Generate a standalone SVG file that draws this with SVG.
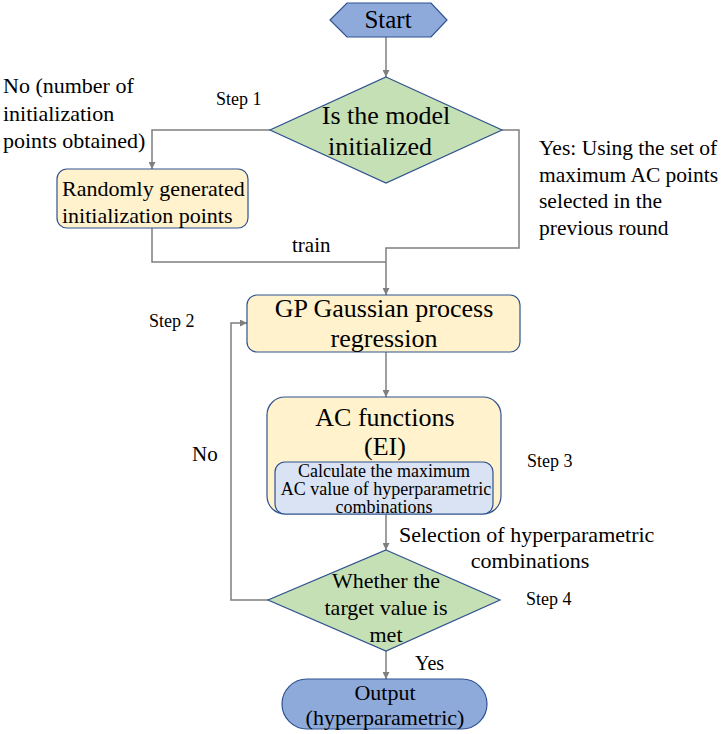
<svg xmlns="http://www.w3.org/2000/svg" width="724" height="734" viewBox="0 0 724 734" font-family="'Liberation Serif', Tinos, 'Times New Roman', 'DejaVu Serif', serif">
<style>
text{font-family:'Liberation Serif',Tinos,'Times New Roman','DejaVu Serif',serif;fill:#000}
.c{fill:none;stroke:#7f7f7f;stroke-width:1.5}
.blue{fill:#8eaadb;stroke:#2f528f;stroke-width:1.2}
.dia{fill:#c5e0b4;stroke:#2f528f;stroke-width:1.2}
.yel{fill:#fff2cc;stroke:#2f528f;stroke-width:1.2}
.lb{fill:#dae3f3;stroke:#2f528f;stroke-width:1.2}
.m{text-anchor:middle}
</style>
<defs>
<marker id="ah" viewBox="0 0 10 10" refX="10" refY="5" markerWidth="7" markerHeight="7" markerUnits="userSpaceOnUse" orient="auto">
<path d="M0,0 L10,5 L0,10 z" fill="#7f7f7f"/>
</marker>
</defs>
<g id="connectors">
<path class="c" d="M386,37 V77" marker-end="url(#ah)"/>
<path class="c" d="M270,130 H152 V169" marker-end="url(#ah)"/>
<path class="c" d="M152,228 V262 H386"/>
<path class="c" d="M502,130 H519 V248 H386 V295" marker-end="url(#ah)"/>
<path class="c" d="M386,352 V397" marker-end="url(#ah)"/>
<path class="c" d="M386,514 V550" marker-end="url(#ah)"/>
<path class="c" d="M268,600 H231 V323 H247" marker-end="url(#ah)"/>
<path class="c" d="M386,651 V679" marker-end="url(#ah)"/>
</g>
<g id="start">
<polygon class="blue" points="330,20 347,3 431,3 447,20 431,37 347,37"/>
<text class="m" x="388" y="28" font-size="25">Start</text>
</g>
<g id="init-decision">
<polygon class="dia" points="386,77 502,130 386,183 270,130"/>
<text class="m" x="386" y="124" font-size="26">Is the model</text>
<text class="m" x="380" y="155" font-size="26">initialized</text>
</g>
<g id="random-init">
<rect class="yel" x="57" y="169" width="191" height="59" rx="10"/>
<text x="62" y="196" font-size="22">Randomly generated</text>
<text x="62" y="223" font-size="22">initialization points</text>
</g>
<g id="gp">
<rect class="yel" x="247" y="295" width="273" height="57" rx="10"/>
<text class="m" x="384" y="317" font-size="26">GP Gaussian process</text>
<text class="m" x="384" y="347" font-size="26">regression</text>
</g>
<g id="ac">
<rect class="yel" x="267" y="397" width="234" height="117" rx="18"/>
<text class="m" x="385" y="426" font-size="26">AC functions</text>
<text class="m" x="385" y="455" font-size="26">(EI)</text>
</g>
<g id="ac-max">
<rect class="lb" x="275" y="462" width="218" height="52" rx="10"/>
<text class="m" x="384" y="477" font-size="18">Calculate the maximum</text>
<text class="m" x="386" y="495" font-size="18">AC value of hyperparametric</text>
<text class="m" x="384" y="513" font-size="18">combinations</text>
</g>
<g id="target-decision">
<polygon class="dia" points="386,550 500,600 386,651 268,600"/>
<text class="m" x="386" y="588" font-size="22">Whether the</text>
<text class="m" x="386" y="615" font-size="22">target value is</text>
<text class="m" x="386" y="642" font-size="22">met</text>
</g>
<g id="output">
<rect class="blue" x="282" y="679" width="205" height="50" rx="25"/>
<text class="m" x="385" y="700" font-size="22">Output</text>
<text class="m" x="385" y="725" font-size="22">(hyperparametric)</text>
</g>
<g id="labels">
<text x="216" y="105" font-size="18">Step 1</text>
<text x="149" y="327" font-size="18">Step 2</text>
<text x="527" y="467" font-size="18">Step 3</text>
<text x="526" y="605" font-size="18">Step 4</text>
<text x="3" y="93" font-size="22">No (number of</text>
<text x="3" y="121" font-size="22">initialization</text>
<text x="3" y="148" font-size="22">points obtained)</text>
<text x="539" y="155" font-size="21.5">Yes: Using the set of</text>
<text x="539" y="182" font-size="21.5">maximum AC points</text>
<text x="539" y="208" font-size="21.5">selected in the</text>
<text x="539" y="235" font-size="21.5">previous round</text>
<text x="292" y="252" font-size="21">train</text>
<text x="192" y="461" font-size="21">No</text>
<text x="399" y="542" font-size="22">Selection of hyperparametric</text>
<text class="m" x="530" y="568" font-size="22">combinations</text>
<text x="415" y="670" font-size="20">Yes</text>
</g>
</svg>
